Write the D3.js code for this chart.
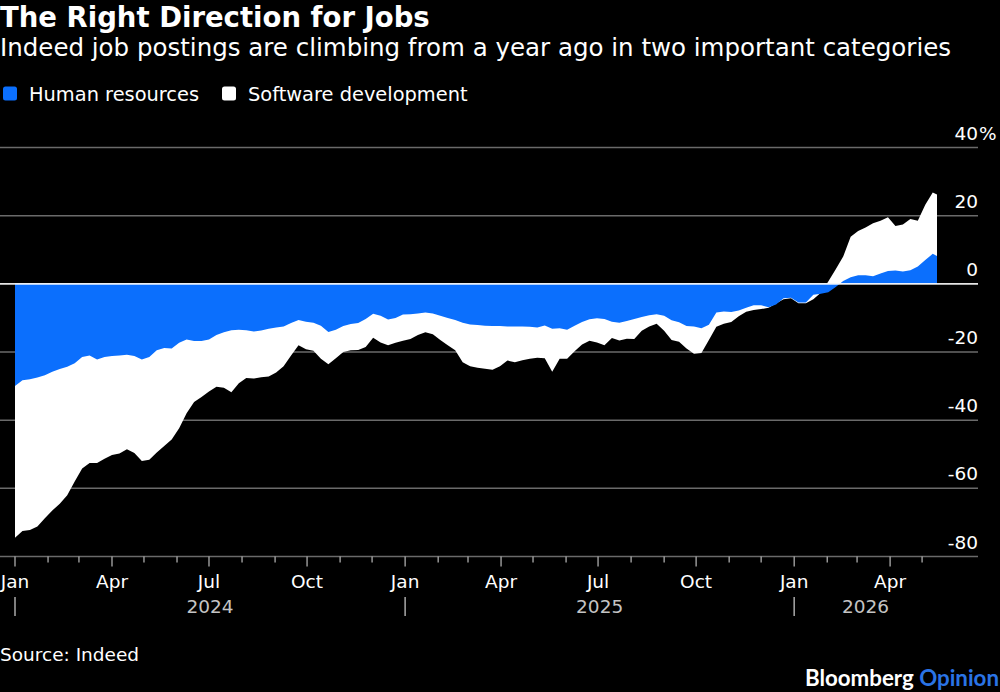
<!DOCTYPE html>
<html>
<head>
<meta charset="utf-8">
<script src="https://cdn.jsdelivr.net/npm/d3@7"></script>
<style>
  body { margin: 0; background: #000; }
  svg { display: block; font-family: "DejaVu Sans", sans-serif; }
</style>
</head>
<body>
<svg width="1000" height="692"></svg>
<script>
// weekly readings, Mondays from Jan 1 2024, plus the last day shown
const startDate = new Date(Date.UTC(2024, 0, 1));
const endDate = new Date(Date.UTC(2026, 4, 15));
const dates = [...d3.utcMonday.range(startDate, new Date(Date.UTC(2026, 4, 12))), endDate];

const humanResources = [
  -30, -28.3, -28, -27.5, -26.8, -25.8, -25, -24.3, -23.3, -21.5,
  -21, -22.2, -21.5, -21.2, -21, -20.8, -21.2, -22.2, -21.5, -19.5,
  -18.8, -19, -17.3, -16.3, -16.8, -16.8, -16.3, -15, -14.2, -13.6,
  -13.5, -13.6, -14, -13.7, -13.2, -12.8, -12.5, -11.5, -10.6, -11.1,
  -11.4, -12.3, -14.1, -13.5, -12.4, -11.8, -11.5, -10.3, -8.8, -9.4,
  -10.5, -10, -9, -8.9, -8.7, -8.4, -8.7, -9.4, -10, -10.6,
  -11.4, -11.9, -12.1, -12.3, -12.4, -12.4, -12.5, -12.5, -12.5, -12.6,
  -12.8, -12.2, -13.2, -13, -13.5, -12.3, -11.2, -10.4, -10.1, -10.3,
  -11.1, -11.4, -10.9, -10.3, -9.7, -9.2, -8.9, -9.4, -10.7, -11.3,
  -12.4, -12.5, -13, -12, -8.4, -8.1, -8.3, -7.8, -7, -6.3,
  -6.3, -6.9, -6.1, -4.2, -4.1, -5.5, -5.5, -3.2, -2.9, -2.5,
  -0.9, 0.8, 1.9, 2.5, 2.5, 2.2, 3, 3.8, 3.9, 3.6,
  4, 5.1, 7, 8.8, 8.2
];

const softwareDev = [
  -74.5, -72.5, -72.2, -71.2, -68.8, -66.5, -64.5, -62, -58, -54.2,
  -52.6, -52.6, -51.3, -50.2, -49.8, -48.5, -49.6, -52, -51.6, -49.5,
  -47.6, -45.7, -42.4, -38, -34.7, -33.2, -31.6, -30.2, -30.5, -31.8,
  -29.2, -27.6, -27.8, -27.4, -27.2, -26, -24.2, -21, -18, -19.2,
  -19.6, -22, -23.6, -21.8, -20, -19.5, -19.4, -18.5, -15.8, -17.2,
  -18, -17.3, -16.7, -16.2, -15, -14.2, -14.8, -16.5, -18, -19.5,
  -23, -24.2, -24.6, -24.9, -25.2, -24.2, -22.5, -23, -22.4, -22,
  -21.7, -21.8, -25.8, -22, -22, -19.8, -17.8, -16.7, -17.2, -18,
  -15.9, -16.6, -16.1, -16.2, -13.8, -12.5, -11.7, -13.8, -16.5, -17,
  -19, -20.5, -20.3, -16.5, -12.6, -11.7, -11.2, -9.5, -8.2, -7.7,
  -7.4, -7, -5.8, -4.5, -4.2, -5.7, -5.7, -4.5, -2.6, 0.7,
  4.3, 8, 13.8, 15.5, 16.5, 17.8, 18.5, 19.5, 17, 17.4,
  19, 18.5, 23.2, 26.8, 26.2
];

const yTicks = [40, 20, 0, -20, -40, -60, -80];
const quarterNames = { 0: "Jan", 3: "Apr", 6: "Jul", 9: "Oct" };
const years = [2024, 2025, 2026];

const blue = "#0b6ffd";

const svg = d3.select("svg");

const x = d3.scaleUtc().domain([startDate, endDate]).range([15, 937]);
const y = d3.scaleLinear().domain([-80, 40]).range([556.5, 147.5]);
const gridRight = 978;

// title block
svg.append("text").attr("x", 0).attr("y", 27)
  .attr("fill", "#fff").attr("font-size", 27.5).attr("font-weight", "bold")
  .text("The Right Direction for Jobs");
svg.append("text").attr("x", 0).attr("y", 56)
  .attr("fill", "#fff").attr("font-size", 24.5)
  .text("Indeed job postings are climbing from a year ago in two important categories");

// legend
const legend = [
  { label: "Human resources", color: blue, x: 3 },
  { label: "Software development", color: "#fff", x: 222 }
];
legend.forEach(d => {
  svg.append("rect").attr("x", d.x).attr("y", 86.5).attr("width", 14).attr("height", 14)
    .attr("rx", 2.5).attr("fill", d.color);
  svg.append("text").attr("x", d.x + 26).attr("y", 101)
    .attr("fill", "#fff").attr("font-size", 19.4).text(d.label);
});

// gridlines
svg.append("g").selectAll("line")
  .data(yTicks.filter(v => v !== 0))
  .join("line")
  .attr("x1", 0).attr("x2", gridRight)
  .attr("y1", d => y(d)).attr("y2", d => y(d))
  .attr("stroke", "#6a6a6a").attr("stroke-width", 1.5);

const series = dates.map((d, i) => ({ date: d, hr: humanResources[i], sw: softwareDev[i] }));

const area = key => d3.area()
  .x(d => x(d.date))
  .y0(y(0))
  .y1(d => y(d[key]));

svg.append("path").datum(series).attr("d", area("sw")).attr("fill", "#fff");
svg.append("path").datum(series).attr("d", area("hr")).attr("fill", blue);

// zero line
svg.append("line").attr("x1", 0).attr("x2", gridRight)
  .attr("y1", y(0)).attr("y2", y(0))
  .attr("stroke", "#fff").attr("stroke-width", 1.6).attr("opacity", 0.9);

// y labels
const yLab = svg.append("g").attr("fill", "#fff").attr("font-size", 18.5);
yTicks.forEach(v => {
  yLab.append("text").attr("x", gridRight).attr("y", y(v) - 8)
    .attr("text-anchor", "end").text(v);
  if (v === 40) {
    yLab.append("text").attr("x", gridRight + 1).attr("y", y(v) - 8).text("%");
  }
});

// x ticks
const months = d3.utcMonth.range(startDate, new Date(Date.UTC(2026, 5, 1)));
svg.append("g").selectAll("line")
  .data(months)
  .join("line")
  .attr("x1", d => x(d)).attr("x2", d => x(d))
  .attr("y1", y(-80)).attr("y2", d => y(-80) + (d.getUTCMonth() % 3 === 0 ? 10 : 6))
  .attr("stroke", "#bbb").attr("stroke-width", 1.2);

svg.append("g").selectAll("text")
  .data(months.filter(d => d.getUTCMonth() % 3 === 0))
  .join("text")
  .attr("x", d => x(d)).attr("y", 588)
  .attr("text-anchor", "middle").attr("fill", "#fff").attr("font-size", 18.5)
  .text(d => quarterNames[d.getUTCMonth()]);

// years
years.forEach(yr => {
  const s = new Date(Date.UTC(yr, 0, 1));
  const e = d3.min([new Date(Date.UTC(yr + 1, 0, 1)), endDate]);
  svg.append("line").attr("x1", x(s)).attr("x2", x(s)).attr("y1", 597).attr("y2", 616)
    .attr("stroke", "#aaa").attr("stroke-width", 1.5);
  svg.append("text").attr("x", (x(s) + x(e)) / 2).attr("y", 613)
    .attr("text-anchor", "middle").attr("fill", "#c4c4c4").attr("font-size", 18.5)
    .text(yr);
});

// footer
svg.append("text").attr("x", 0).attr("y", 661)
  .attr("fill", "#fff").attr("font-size", 18.5).text("Source: Indeed");

const brand = svg.append("text").attr("x", 999).attr("y", 686)
  .attr("text-anchor", "end").attr("font-family", "Lato, sans-serif")
  .attr("font-weight", "bold").attr("font-size", 22.3);
brand.append("tspan").attr("fill", "#fff").text("Bloomberg ");
brand.append("tspan").attr("fill", "#2a74e6").text("Opinion");
</script>
</body>
</html>
